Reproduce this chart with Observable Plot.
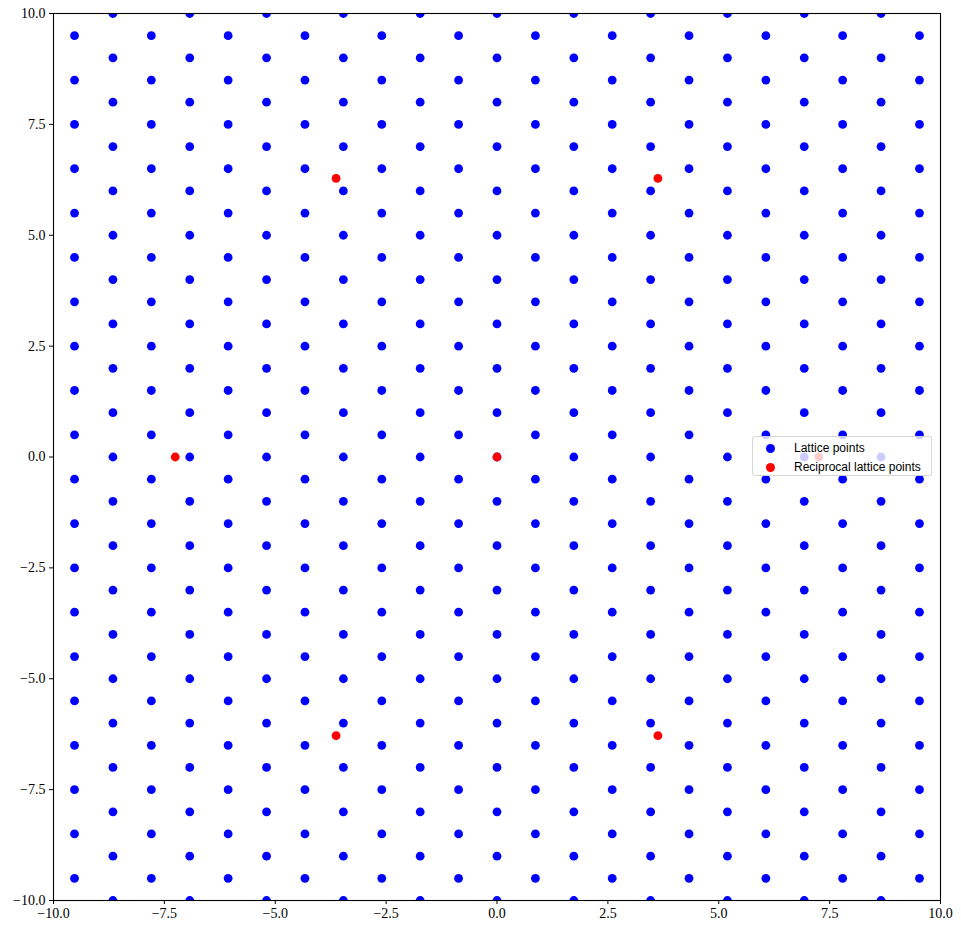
<!DOCTYPE html>
<html>
<head>
<meta charset="utf-8">
<script src="https://cdn.jsdelivr.net/npm/d3@7"></script>
<script src="https://cdn.jsdelivr.net/npm/@observablehq/plot@0.6"></script>
<style>
  html, body { margin: 0; padding: 0; background: #fff; }
  #wrap { position: relative; width: 961px; height: 931px; }
  #legend {
    position: absolute; left: 752px; top: 436px; width: 180px; height: 40px;
    box-sizing: border-box;
    background: rgba(255,255,255,0.8);
    border: 1px solid rgba(204,204,204,0.8);
    border-radius: 3px;
    font-family: "Liberation Sans", sans-serif; font-size: 12px; color: #000;
  }
  #legend .row { position: absolute; left: 0; height: 16px; line-height: 16px; white-space: nowrap; }
  #legend .dot { position: absolute; left: 13px; top: 3.5px; width: 9px; height: 9px; border-radius: 50%; }
  #legend .lab { position: absolute; left: 41px; top: 0; }
</style>
</head>
<body>
<div id="wrap"></div>
<script>
// Lattice columns whose points sit on integer y
const xIntCols = [-8.660, -6.928, -5.196, -3.464, -1.732, 0, 1.732, 3.464, 5.196, 6.928, 8.660];
// Lattice columns whose points sit on half-integer y
const xHalfCols = [-9.526, -7.794, -6.062, -4.330, -2.598, -0.866, 0.866, 2.598, 4.330, 6.062, 7.794, 9.526];
const yInt = [-10, -9, -8, -7, -6, -5, -4, -3, -2, -1, 0, 1, 2, 3, 4, 5, 6, 7, 8, 9, 10];
const yHalf = [-9.5, -8.5, -7.5, -6.5, -5.5, -4.5, -3.5, -2.5, -1.5, -0.5, 0.5, 1.5, 2.5, 3.5, 4.5, 5.5, 6.5, 7.5, 8.5, 9.5];
// Reciprocal lattice points
const recipX = [0, 7.255, -7.255, 3.628, -3.628, 3.628, -3.628];
const recipY = [0, 0, 0, 6.283, 6.283, -6.283, -6.283];
// Axis ticks
const ticks = [-10, -7.5, -5, -2.5, 0, 2.5, 5, 7.5, 10];
const seriesNames = ["Lattice points", "Reciprocal lattice points"];
const seriesColors = ["#0000ff", "#ff0000"];

const lattice = [];
for (const x of xIntCols) for (const y of yInt) lattice.push({x, y});
for (const x of xHalfCols) for (const y of yHalf) lattice.push({x, y});
const recip = recipX.map((x, i) => ({x, y: recipY[i]}));

const fmt = d => (d < 0 ? "\u2212" : "") + Math.abs(d).toFixed(1);

const chart = Plot.plot({
  width: 961,
  height: 931,
  marginLeft: 53,
  marginTop: 13,
  marginRight: 21,
  marginBottom: 31,
  style: {background: "#fff", fontFamily: "'Liberation Serif', serif", fontSize: "14px", color: "#000"},
  x: {domain: [-10, 10]},
  y: {domain: [-10, 10]},
  marks: [
    Plot.dot(lattice, {x: "x", y: "y", r: 4.4, fill: seriesColors[0], stroke: "none", clip: true}),
    Plot.dot(recip, {x: "x", y: "y", r: 4.4, fill: seriesColors[1], stroke: "none", clip: true}),
    Plot.frame({stroke: "#000", strokeWidth: 1.1}),
    Plot.axisX({ticks, tickFormat: fmt, tickSize: 4, tickPadding: 4, label: null, fontSize: 14}),
    Plot.axisY({ticks, tickFormat: fmt, tickSize: 4, tickPadding: 4, label: null, fontSize: 14})
  ]
});
const wrap = document.getElementById("wrap");
wrap.appendChild(chart);

const legend = document.createElement("div");
legend.id = "legend";
seriesNames.forEach((name, i) => {
  const row = document.createElement("div");
  row.className = "row";
  row.style.top = (3 + i * 19) + "px";
  row.style.width = "100%";
  const dot = document.createElement("span");
  dot.className = "dot";
  dot.style.background = seriesColors[i];
  const lab = document.createElement("span");
  lab.className = "lab";
  lab.textContent = name;
  row.appendChild(dot);
  row.appendChild(lab);
  legend.appendChild(row);
});
wrap.appendChild(legend);
</script>
</body>
</html>
